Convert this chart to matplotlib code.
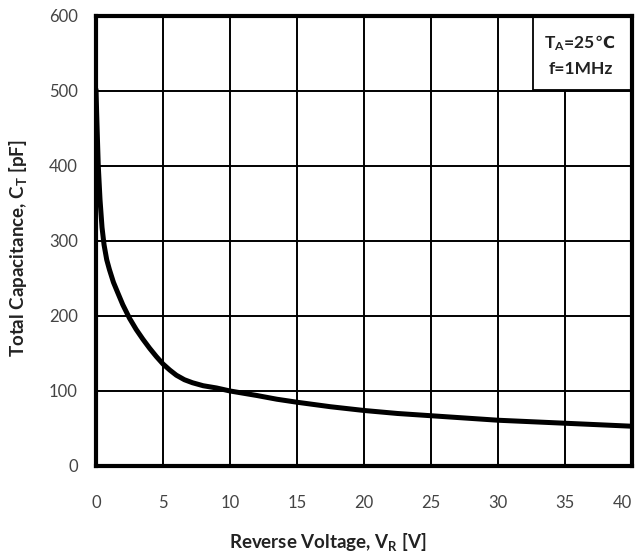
import matplotlib
matplotlib.use("Agg")
import matplotlib.pyplot as plt
from matplotlib.patches import Rectangle
from matplotlib.transforms import ScaledTranslation

voltage = [0.0, 0.05, 0.1, 0.17, 0.3, 0.45, 0.6, 0.8, 1.0, 1.3, 1.6, 2.0, 2.5, 3.0, 3.5, 4.0,
           4.5, 5.0, 5.5, 6.0, 6.6, 7.2, 8.0, 9.0, 10.0, 11.0, 12.0, 13.5, 15.0, 17.5, 20.0,
           22.5, 25.0, 27.5, 30.0, 32.5, 35.0, 37.5, 40.0]
capacitance = [502, 470, 440, 400, 355, 318, 295, 275, 262, 245, 232, 215, 197, 182, 169, 157,
               146, 136, 128, 121, 115, 111, 107, 104, 100, 97, 94, 89, 85, 79, 74,
               70, 67, 64, 61, 59, 57, 55, 53]

x_ticks = [0, 5, 10, 15, 20, 25, 30, 35, 40]
y_ticks = [0, 100, 200, 300, 400, 500, 600]

plt.rcParams['font.family'] = ['Lato', 'DejaVu Sans']
plt.rcParams['mathtext.default'] = 'regular'

fig = plt.figure(figsize=(6.4, 5.59), dpi=100)
ax = fig.add_axes([0.15, 0.1664, 0.8375, 0.805])

ax.set_xlim(0, 40)
ax.set_ylim(0, 600)
ax.set_xticks(x_ticks)
ax.set_yticks(y_ticks)
ax.grid(True, color='black', linewidth=1.4)
ax.set_axisbelow(True)
for s in ax.spines.values():
    s.set_linewidth(3.0)
    s.set_color('black')
    s.set_zorder(6)
ax.tick_params(length=0, labelsize=12, colors='#444444')
ax.tick_params(axis='y', pad=13)
ax.tick_params(axis='x', pad=21)

# last x label sits slightly inside the figure edge, as in the reference
last = ax.get_xticklabels()[-1]
last.set_transform(last.get_transform() + ScaledTranslation(-7 / 72, 0, fig.dpi_scale_trans))

ax.plot(voltage, capacitance, color='black', linewidth=3.6, solid_capstyle='round',
        solid_joinstyle='round', zorder=3)

fig.text(0.5125, 0.030, r'Reverse Voltage, V$_{R}$ [V]', fontsize=13.5, fontweight='bold',
         color='#222222', ha='center', va='center')
fig.text(0.028, 0.556, r'Total Capacitance, C$_{T}$ [pF]', fontsize=13.5, fontweight='bold',
         color='#222222', ha='center', va='center', rotation=90)

# condition box
ax.add_patch(Rectangle((0.815, 0.836), 0.185, 0.164, transform=ax.transAxes,
                       facecolor='white', edgecolor='black', linewidth=1.3, zorder=4))
ax.text(0.931, 0.929, 'T$_{A}$=25', transform=ax.transAxes, ha='right', va='baseline',
        fontsize=12.5, fontweight='bold', color='#222222', zorder=5)
ax.text(0.931, 0.929, '\u2103', transform=ax.transAxes, ha='left', va='baseline',
        fontsize=12, fontweight='bold', color='#222222', zorder=5)
ax.text(0.904, 0.871, 'f=1MHz', transform=ax.transAxes, ha='center', va='baseline',
        fontsize=12.5, fontweight='bold', color='#222222', zorder=5)

fig.savefig('out.png', dpi=100)
